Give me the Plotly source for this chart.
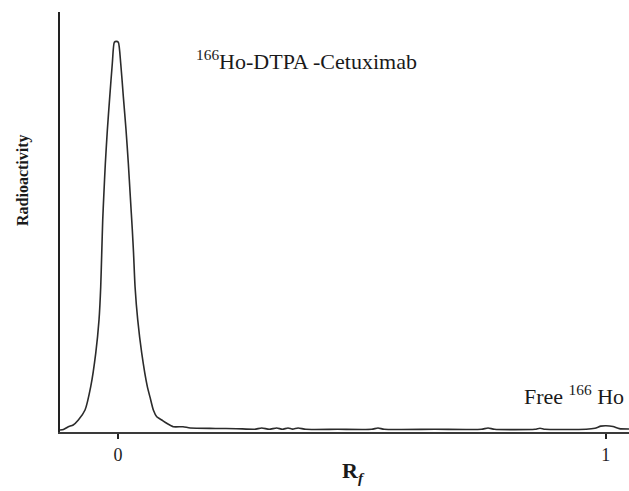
import plotly.graph_objects as go

# Radio-TLC scan of 166Ho-DTPA-Cetuximab: relative front (Rf) vs. radioactivity
rf = [-0.119, -0.112, -0.102, -0.092, -0.0814, -0.0677, -0.056, -0.0457, -0.039,
      -0.0355, -0.0334, -0.0314, -0.0293, -0.026, -0.0219, -0.017, -0.0117, -0.0076,
      -0.0035, 0.0006, 0.0055, 0.0109, 0.0164, 0.0211, 0.0252, 0.0293, 0.0318, 0.0349,
      0.0404, 0.0486, 0.0601, 0.0656, 0.0724, 0.0794, 0.0896, 0.0999, 0.1134, 0.1333,
      0.148, 0.200, 0.243, 0.280, 0.2947, 0.310, 0.3254, 0.337, 0.3486, 0.358, 0.3691,
      0.385, 0.45, 0.52, 0.5331, 0.546, 0.65, 0.745, 0.7587, 0.772, 0.855, 0.8653,
      0.876, 0.96, 0.978, 0.990, 1.0006, 1.015, 1.028, 1.0478]
counts = [0.48, 0.6, 1.26, 1.67, 2.86, 5.24, 10.8, 18.8, 26.7,
          34.6, 42.6, 50.5, 56.0, 64.0, 71.9, 79.8, 87.8, 92.8,
          93.0, 92.8, 87.8, 79.8, 71.9, 64.0, 56.0, 48.1, 42.6, 34.6,
          26.7, 18.8, 10.8, 8.3, 5.24, 3.64, 2.86, 2.07, 1.26, 1.26,
          0.95, 0.85, 0.79, 0.66, 0.95, 0.66, 0.95, 0.66, 0.95, 0.68, 0.95,
          0.64, 0.64, 0.64, 0.95, 0.64, 0.66, 0.64, 0.95, 0.64, 0.64, 0.9,
          0.64, 0.66, 0.9, 1.4, 1.5, 1.3, 0.8, 0.7]

tick_vals = [0, 1]
tick_text = ["0", "1"]

serif = "Liberation Serif, Times New Roman, serif"

fig = go.Figure()
fig.add_trace(go.Scatter(
    x=rf, y=counts, mode="lines",
    line=dict(color="#2b2b2b", width=1.6, shape="spline", smoothing=0.6),
    hoverinfo="skip", showlegend=False,
))

fig.update_layout(
    width=629, height=491,
    margin=dict(l=60, r=0, t=12, b=59),
    paper_bgcolor="white", plot_bgcolor="white",
    xaxis=dict(
        range=[-0.119, 1.0478], showgrid=False, zeroline=False,
        showline=True, linecolor="#3a3a3a", linewidth=2,
        tickvals=tick_vals, ticktext=tick_text,
        ticks="outside", ticklen=5, tickwidth=1.5, tickcolor="#222",
        tickfont=dict(family=serif, size=18, color="#222"),
    ),
    yaxis=dict(
        range=[0, 100], showgrid=False, zeroline=False,
        showline=True, linecolor="#222", linewidth=2,
        showticklabels=False, ticks="",
    ),
    annotations=[
        dict(text="<sup>166</sup>Ho-DTPA -Cetuximab", xref="paper", yref="paper",
             x=0.2355, y=0.886, xanchor="left", yanchor="middle", showarrow=False,
             font=dict(family=serif, size=22, color="#1a1a1a")),
        dict(text="Free <sup>166</sup> Ho", xref="paper", yref="paper",
             x=0.8120, y=0.088, xanchor="left", yanchor="middle", showarrow=False,
             font=dict(family=serif, size=22, color="#1a1a1a")),
        dict(text="<b>Radioactivity</b>", xref="paper", yref="paper",
             x=-0.065, y=0.6, xanchor="center", yanchor="middle", textangle=-90,
             showarrow=False, font=dict(family=serif, size=16, color="#1a1a1a")),
        dict(text="<b>R<sub><i>f</i></sub></b>", xref="paper", yref="paper",
             x=0.515, y=-0.095, xanchor="center", yanchor="middle", showarrow=False,
             font=dict(family=serif, size=22, color="#1a1a1a")),
    ],
)

fig.write_html("out.html")
